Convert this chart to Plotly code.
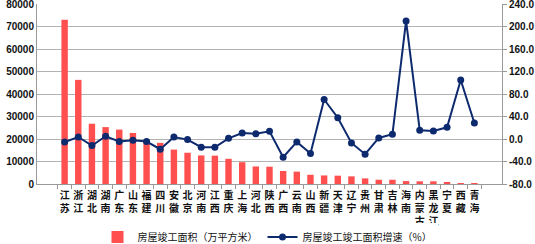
import plotly.graph_objects as go

provinces = ["江苏", "浙江", "湖北", "湖南", "广东", "山东", "福建", "四川", "安徽", "北京",
             "河南", "江西", "重庆", "上海", "河北", "陕西", "广西", "云南", "山西", "新疆",
             "天津", "辽宁", "贵州", "甘肃", "吉林", "海南", "内蒙古", "黑龙江", "宁夏", "西藏", "青海"]
area = [73000, 46300, 26800, 25300, 24200, 22700, 19300, 18300, 15300, 13900,
        12700, 12600, 11200, 9700, 7800, 7700, 5800, 5500, 4100, 3800,
        3700, 3400, 2500, 1900, 1900, 1300, 1200, 1200, 750, 250, 300]
growth = [-5.2, 3.6, -11.6, 4.9, -4.5, -2.2, -4.5, -18.1, 3.6, -1.0,
          -14.6, -14.6, 1.3, 10.7, 9.5, 13.7, -32.3, -5.2, -25.8, 70.3,
          37.9, -6.9, -27.0, 1.9, 8.4, 210.0, 15.5, 14.3, 20.8, 105.0, 28.5]
bar_name = "房屋竣工面积（万平方米）"
line_name = "房屋竣工竣工面积增速（%）"
left_ticks = list(range(0, 80001, 10000))
right_ticks = list(range(-80, 241, 40))

labels = ["<br>".join(list(p)) for p in provinces]

fig = go.Figure()
fig.add_trace(go.Bar(x=labels, y=area, name=bar_name, marker=dict(color="#FF4F4F", line=dict(width=0)),
                     yaxis="y"))
fig.add_trace(go.Scatter(x=labels, y=growth, name=line_name, mode="lines+markers",
                         line=dict(color="#0E2A6E", width=2),
                         marker=dict(color="#0E2A6E", size=7), yaxis="y2"))

font_family = "Noto Sans CJK SC, DejaVu Sans, sans-serif"
num_font = dict(size=10, family="Liberation Sans, Arial", color="#111", weight="bold")
fig.update_layout(
    width=535, height=244,
    margin=dict(l=37, r=33, t=4, b=60, autoexpand=False),
    paper_bgcolor="white", plot_bgcolor="white",
    bargap=0.53,
    showlegend=True,
    legend=dict(orientation="h", x=0.5, xanchor="center", xref="container",
                y=-0.295, yanchor="middle",
                font=dict(size=10, family=font_family, color="#111"), itemwidth=30,
                traceorder="normal"),
    xaxis=dict(type="category", tickson="boundaries", ticks="outside", ticklen=4,
               tickcolor="#999", showline=True, linecolor="#999", linewidth=1,
               tickfont=dict(size=10, family=font_family, color="#111", weight="bold"),
               tickangle=0, showgrid=False, automargin=False, ticklabelstandoff=2),
    yaxis=dict(range=[0, 80040], tickvals=left_ticks, ticktext=[str(v) for v in left_ticks],
               showgrid=True, gridcolor="#B3B3B3", automargin=False, ticklabeloverflow="allow",
               gridwidth=1, showline=True, linecolor="#999", ticks="", zeroline=False,
               tickfont=num_font),
    yaxis2=dict(range=[-80, 240.16], tickvals=right_ticks, ticktext=[f"{v:.1f}" for v in right_ticks],
                overlaying="y", automargin=False, ticklabeloverflow="allow",
                side="right", showgrid=False, showline=True, linecolor="#999", ticks="outside",
                ticklen=4, tickcolor="#999", zeroline=False, tickfont=num_font),
)
fig.write_html("out.html")
